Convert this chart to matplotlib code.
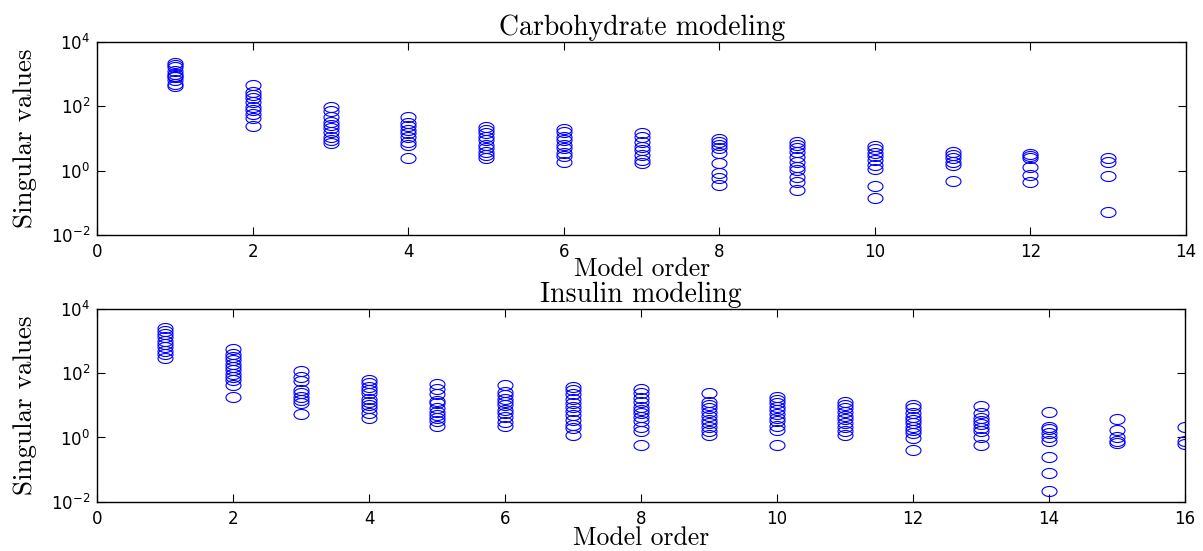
import numpy as np
import matplotlib
matplotlib.use('Agg')
import matplotlib.pyplot as plt
from matplotlib.path import Path

# Singular values per model order (log10 values)
carb_orders = list(range(1, 14))
carb_log_sv = [
    [3.34, 3.28, 3.2, 3.1, 3.0, 2.95, 2.9, 2.8, 2.7, 2.63],
    [2.66, 2.45, 2.35, 2.24, 2.14, 1.98, 1.88, 1.77, 1.62, 1.38],
    [1.96, 1.86, 1.65, 1.52, 1.41, 1.31, 1.21, 1.05, 0.95, 0.85],
    [1.65, 1.49, 1.38, 1.26, 1.16, 1.03, 0.90, 0.79, 0.39],
    [1.34, 1.26, 1.16, 1.05, 0.95, 0.79, 0.69, 0.59, 0.48, 0.38],
    [1.29, 1.21, 1.05, 0.95, 0.79, 0.69, 0.56, 0.45, 0.28],
    [1.16, 1.05, 0.90, 0.74, 0.64, 0.48, 0.33, 0.23],
    [0.97, 0.90, 0.79, 0.69, 0.54, 0.23, -0.08, -0.24, -0.45],
    [0.90, 0.79, 0.69, 0.59, 0.43, 0.28, 0.12, 0.02, -0.19, -0.34, -0.60],
    [0.76, 0.66, 0.56, 0.45, 0.33, 0.17, 0.04, -0.48, -0.84],
    [0.59, 0.48, 0.38, 0.28, 0.17, -0.32],
    [0.51, 0.45, 0.38, 0.10, -0.14, -0.37],
    [0.38, 0.26, -0.17, -1.28],
]

ins_orders = list(range(1, 17))
ins_log_sv = [
    [3.42, 3.32, 3.22, 3.12, 3.01, 2.91, 2.81, 2.70, 2.60, 2.48],
    [2.76, 2.60, 2.50, 2.40, 2.29, 2.19, 2.09, 1.99, 1.88, 1.78, 1.63, 1.25],
    [2.06, 1.88, 1.75, 1.47, 1.37, 1.27, 1.16, 1.06, 0.72],
    [1.78, 1.71, 1.57, 1.47, 1.37, 1.21, 1.11, 1.01, 0.91, 0.75, 0.62],
    [1.65, 1.52, 1.34, 1.13, 1.06, 0.93, 0.80, 0.70, 0.60, 0.50, 0.37],
    [1.63, 1.42, 1.32, 1.21, 1.11, 1.01, 0.86, 0.75, 0.65, 0.47, 0.36],
    [1.57, 1.47, 1.34, 1.21, 1.06, 0.96, 0.82, 0.70, 0.55, 0.39, 0.29, 0.08],
    [1.52, 1.37, 1.24, 1.11, 0.96, 0.86, 0.75, 0.65, 0.50, 0.34, 0.19, -0.25],
    [1.37, 1.11, 1.01, 0.91, 0.80, 0.68, 0.55, 0.44, 0.34, 0.21, 0.08],
    [1.27, 1.16, 1.06, 0.96, 0.86, 0.72, 0.60, 0.50, 0.37, 0.24, -0.25],
    [1.11, 1.01, 0.91, 0.80, 0.68, 0.58, 0.44, 0.34, 0.21, 0.08],
    [1.01, 0.91, 0.75, 0.65, 0.55, 0.44, 0.34, 0.24, 0.14, -0.02, -0.38],
    [0.99, 0.75, 0.62, 0.52, 0.41, 0.31, 0.19, 0.03, -0.22],
    [0.78, 0.34, 0.26, 0.14, 0.00, -0.10, -0.60, -1.10, -1.66],
    [0.58, 0.24, 0.03, -0.10, -0.17],
    [0.34, -0.12, -0.20],
]

titles = ['Carbohydrate modeling', 'Insulin modeling']
xmax = [14, 16]
xlabel_pads = [-3, -1]

# stretched circle marker, like the original squashed figure
t = np.linspace(0, 2 * np.pi, 60)
ellipse = Path(np.column_stack([1.5 * np.cos(t), np.sin(t)]))

plt.rcParams['font.family'] = 'DejaVu Sans'
serif = 'cmr10'

fig = plt.figure(figsize=(12.03, 5.51), dpi=100)
ax1 = fig.add_axes([97.3 / 1203, 1 - 235 / 551, (1186 - 97.3) / 1203, (235 - 41.7) / 551])
ax2 = fig.add_axes([97.3 / 1203, 1 - 501.7 / 551, (1185 - 97.3) / 1203, (501.7 - 309) / 551])

for ax, orders, logsv, title, xm, lp in zip([ax1, ax2], [carb_orders, ins_orders],
                                             [carb_log_sv, ins_log_sv], titles, xmax, xlabel_pads):
    for k, vals in zip(orders, logsv):
        v = 10.0 ** np.array(vals)
        ax.plot(np.full(len(v), k), v, linestyle='none', marker=ellipse,
                markersize=10.8, markerfacecolor='none', markeredgecolor='#0000ff',
                markeredgewidth=0.8)
    ax.set_yscale('log')
    ax.set_ylim(1e-2, 1e4)
    ax.set_xlim(0, xm)
    ax.set_yticks([1e-2, 1e0, 1e2, 1e4])
    ax.yaxis.set_minor_locator(matplotlib.ticker.NullLocator())
    ax.set_xticks(range(0, xm + 1, 2))
    ax.tick_params(direction='in', top=True, right=True, labelsize=12, length=6, width=0.8)
    ax.tick_params(axis='y', pad=5)
    ax.tick_params(axis='x', pad=6)
    ax.set_title(title, fontsize=20, family=serif, pad=5)
    ax.set_xlabel('Model order', fontsize=18.5, family=serif, labelpad=lp)
    ax.set_ylabel('Singular values', fontsize=19.5, family=serif, labelpad=10)
    for s in ax.spines.values():
        s.set_linewidth(1.0)

plt.savefig('out.png', dpi=100)
